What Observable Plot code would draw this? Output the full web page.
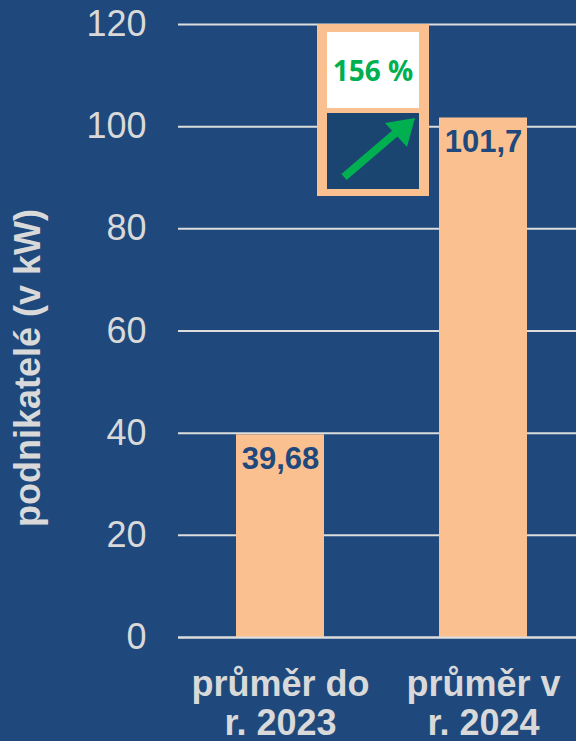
<!DOCTYPE html>
<html>
<head>
<meta charset="utf-8">
<script src="https://cdn.jsdelivr.net/npm/d3@7"></script>
<script src="https://cdn.jsdelivr.net/npm/@observablehq/plot@0.6"></script>
<style>
  html, body { margin: 0; padding: 0; background: #1F497D; }
  #wrap { position: relative; width: 576px; height: 741px; overflow: hidden; background: #1F497D; }
  #inset { position: absolute; left: 317px; top: 24px; width: 112px; height: 172px; background: #FAC090; }
  #inset .top { position: absolute; left: 10px; top: 8px; width: 92px; height: 76px; background: #FFFFFF;
    display: flex; align-items: center; justify-content: center;
    font-family: "Open Sans", "Liberation Sans", sans-serif; font-weight: bold; font-size: 28px; color: #00B050; }
  #inset .bot { position: absolute; left: 10px; top: 89px; width: 92px; height: 76px; background: #1A4571; }
</style>
</head>
<body>
<div id="wrap"></div>
<script>
const categories = ["průměr do\nr. 2023", "průměr v\nr. 2024"];
const values = [39.68, 101.7];
const valueLabels = ["39,68", "101,7"];
const yTicks = [0, 20, 40, 60, 80, 100, 120];
const yTitle = "podnikatelé (v kW)";
const changeLabel = "156 %";

const data = categories.map((c, i) => ({cat: c, value: values[i], label: valueLabels[i]}));

const chart = Plot.plot({
  width: 576,
  height: 741,
  marginLeft: 178,
  marginRight: 0,
  marginTop: 24,
  marginBottom: 104,
  style: {background: "#1F497D", fontFamily: "'Liberation Sans', Arial, sans-serif", color: "#D9D9D9"},
  x: {domain: categories, range: [178, 585], paddingInner: 0.567, paddingOuter: 0.2835},
  y: {domain: [0, 120], range: [637, 24]},
  marks: [
    Plot.gridY(yTicks, {stroke: "#DDDDDD", strokeOpacity: 1, strokeWidth: 2}),
    Plot.barY(data, {x: "cat", y: "value", fill: "#FAC090"}),
    Plot.ruleY([0], {stroke: "#DDDDDD", strokeWidth: 2}),
    Plot.text(data, {x: "cat", y: "value", text: "label", dy: 24, fill: "#1F497D",
      fontWeight: "bold", fontSize: 31, lineAnchor: "middle"}),
    Plot.axisY({ticks: yTicks, tickSize: 0, tickPadding: 32, fontSize: 36, fill: "#D9D9D9", label: null}),
    Plot.axisX({tickSize: 0, tickPadding: 30, fontSize: 36, fontWeight: "bold", fill: "#D9D9D9",
      lineHeight: 1.1, label: null}),
    Plot.text([yTitle], {frameAnchor: "left", rotate: -90, dx: -150, dy: 37, textAnchor: "middle",
      fontSize: 36, fontWeight: "bold", fill: "#D9D9D9"})
  ]
});

const wrap = document.getElementById("wrap");
wrap.appendChild(chart);

const inset = document.createElement("div");
inset.id = "inset";
inset.innerHTML = `<div class="top">${changeLabel}</div>
<div class="bot"><svg width="92" height="76" viewBox="0 0 92 76">
<line x1="17" y1="64" x2="72" y2="17" stroke="#00B050" stroke-width="8"/>
<polygon points="88,5 58,10 80,34" fill="#00B050"/>
</svg></div>`;
wrap.appendChild(inset);
</script>
</body>
</html>
